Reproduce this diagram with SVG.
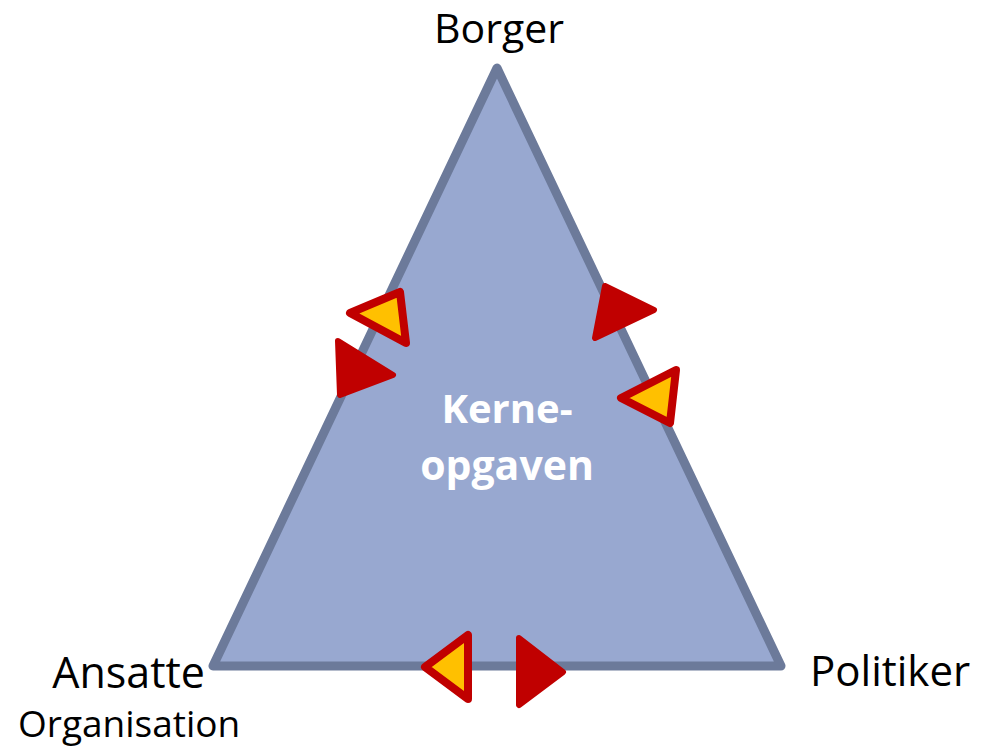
<svg xmlns="http://www.w3.org/2000/svg" width="983" height="748" viewBox="0 0 983 748">
<style>
.lbl{font-family:"Open Sans","Liberation Sans",sans-serif;fill:#000}
.ctr{font-family:"Open Sans","Liberation Sans",sans-serif;font-weight:bold;fill:#fff}
.tri{fill:#98A8D0;stroke:#6C7A9A;stroke-width:9;stroke-linejoin:round}
.arr-y{fill:#FFC000;stroke:#C00000;stroke-width:8;stroke-linejoin:round}
.arr-r{fill:#C00000;stroke:#C00000;stroke-width:6;stroke-linejoin:round}
</style>
<rect width="983" height="748" fill="#fff"/>
<g id="kerneopgaven">
<polygon class="tri" points="497,68 213,666 781,666"/>
<text class="ctr" x="507" y="423" font-size="40" text-anchor="middle">Kerne-</text>
<text class="ctr" x="507" y="480" font-size="41" text-anchor="middle">opgaven</text>
</g>
<g id="borger">
<text class="lbl" x="499" y="43" font-size="41" text-anchor="middle">Borger</text>
</g>
<g id="ansatte">
<text class="lbl" x="205" y="688" font-size="43" text-anchor="end">Ansatte</text>
<text class="lbl" x="18" y="737" font-size="37">Organisation</text>
</g>
<g id="politiker">
<text class="lbl" x="810" y="686" font-size="42">Politiker</text>
</g>
<g id="connectors">
<polygon class="arr-y" points="350,313 400,292 406,343"/>
<polygon class="arr-r" points="338,341 393,375 340,395"/>
<polygon class="arr-r" points="605,286 654,310 595,338"/>
<polygon class="arr-y" points="676,370 621,398 670,423"/>
<polygon class="arr-y" points="425,667 468,635 468,699"/>
<polygon class="arr-r" points="519,638 563,672 519,705"/>
</g>
</svg>
